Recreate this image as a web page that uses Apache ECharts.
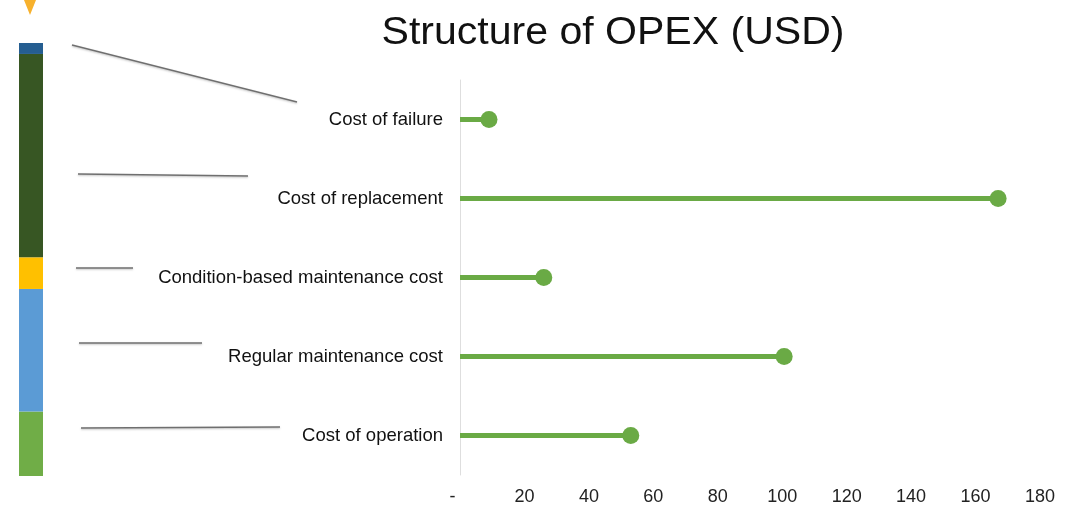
<!DOCTYPE html>
<html>
<head>
<meta charset="utf-8">
<title>Structure of OPEX (USD)</title>
<script src="https://cdn.jsdelivr.net/npm/echarts@6/dist/echarts.min.js"></script>
<style>
  html, body { margin: 0; padding: 0; background: #fff; }
  #main { width: 1076px; height: 519px; }
</style>
</head>
<body>
<div id="main"></div>
<script>
// categories listed bottom -> top (category axis draws the first one at the bottom)
var categories = ['Cost of operation', 'Regular maintenance cost', 'Condition-based maintenance cost', 'Cost of replacement', 'Cost of failure'];
var values = [53, 100.6, 26, 167, 9];
var segColors = ['#70ad47', '#5b9bd5', '#ffc000', '#375623', '#255e91'];
var xTicks = [0, 20, 40, 60, 80, 100, 120, 140, 160, 180];

var chart = echarts.init(document.getElementById('main'));
var font = 'Liberation Sans, Arial, sans-serif';

// stacked bar on the left, one series per cost item
var stackSeries = [];
for (var i = 0; i < categories.length; i++) {
  stackSeries.push({
    name: categories[i],
    type: 'bar',
    stack: 'total',
    xAxisIndex: 1,
    yAxisIndex: 1,
    barWidth: '100%',
    itemStyle: { color: segColors[i] },
    data: [values[i]],
    silent: true
  });
}

// leader lines from stacked bar to labels (decoration)
var leaders = [
  [72, 45, 297, 102],
  [78, 174, 248, 176],
  [76, 268, 133, 268],
  [79, 343, 202, 343],
  [81, 428, 280, 427]
];
var graphics = leaders.map(function (l) {
  return {
    type: 'line',
    shape: { x1: l[0], y1: l[1], x2: l[2], y2: l[3] },
    style: { stroke: '#6f6f6f', lineWidth: 1.3, shadowColor: 'rgba(0,0,0,0.25)', shadowBlur: 2, shadowOffsetY: 1 },
    silent: true
  };
});
graphics.push({
  type: 'polygon',
  shape: { points: [[24, 0], [36, 0], [30, 15]] },
  style: { fill: '#f7b12d' },
  silent: true
});
// title, a bit wider than plain Arial like the original
graphics.push({
  type: 'text',
  x: 613,
  y: 15,
  scaleX: 1.08,
  style: {
    text: 'Structure of OPEX (USD)',
    font: '38px "Liberation Sans", Arial, sans-serif',
    fill: '#111',
    align: 'center',
    verticalAlign: 'top'
  },
  silent: true
});

var option = {
  backgroundColor: '#fff',
  animation: false,
  grid: [
    { left: 460, right: 36, top: 80, bottom: 44 },
    { left: 19, width: 24, top: 43, bottom: 43 }
  ],
  xAxis: [
    {
      type: 'value',
      min: xTicks[0],
      max: xTicks[xTicks.length - 1],
      interval: xTicks[1] - xTicks[0],
      axisLine: { show: false },
      axisTick: { show: false },
      splitLine: { show: false },
      axisLabel: {
        color: '#222',
        fontFamily: font,
        fontSize: 18,
        margin: 13,
        formatter: function (v) { return v === 0 ? '-   ' : String(v); }
      }
    },
    { type: 'category', gridIndex: 1, data: ['OPEX'], show: false }
  ],
  yAxis: [
    {
      type: 'category',
      data: categories,
      axisLine: { show: true, lineStyle: { color: '#dedede', width: 1 } },
      axisTick: { show: false },
      axisLabel: { color: '#111', fontFamily: font, fontSize: 18.5, margin: 17 }
    },
    { type: 'value', gridIndex: 1, min: 0, max: 'dataMax', show: false }
  ],
  series: [
    {
      type: 'bar',
      data: values,
      barWidth: 5,
      itemStyle: { color: '#6aaa45' },
      silent: true
    },
    {
      type: 'scatter',
      data: values.map(function (v, i) { return [v, categories[i]]; }),
      symbolSize: 17,
      itemStyle: { color: '#6aaa45', opacity: 1 },
      silent: true
    }
  ].concat(stackSeries),
  graphic: graphics
};

chart.setOption(option);
</script>
</body>
</html>
